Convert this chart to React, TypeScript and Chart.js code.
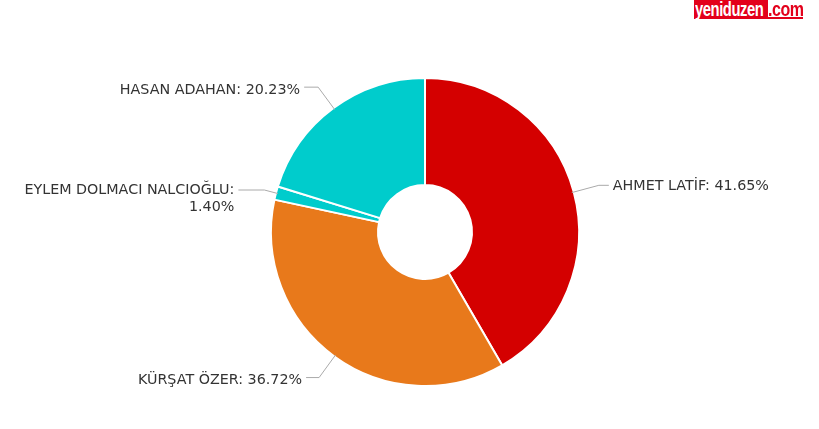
import React, { useEffect, useRef } from "react";
import { Chart, registerables } from "chart.js";

Chart.register(...registerables);

const candidates = ["AHMET LATİF", "KÜRŞAT ÖZER", "EYLEM DOLMACI NALCIOĞLU", "HASAN ADAHAN"];
const percentages = [41.65, 36.72, 1.4, 20.23];
const colors = ["#d40000", "#e8791b", "#00cccc", "#00cccc"];

const FONT = "14.3px 'DejaVu Sans', Verdana, sans-serif";

const labelPlugin = {
  id: "pieLabels",
  afterDatasetsDraw(chart: any) {
    const ctx = chart.ctx as CanvasRenderingContext2D;
    const meta = chart.getDatasetMeta(0);
    const dist = [26, 26, 12, 26];
    const horiz = [10, 13, 26, 14];
    const dy = [1, 3, 0, 3];
    ctx.save();
    ctx.font = FONT;
    meta.data.forEach((arc: any, i: number) => {
      const { x, y, startAngle, endAngle, outerRadius } = arc.getProps(
        ["x", "y", "startAngle", "endAngle", "outerRadius"],
        true
      );
      const mid = (startAngle + endAngle) / 2;
      const cos = Math.cos(mid);
      const sin = Math.sin(mid);
      const r0 = outerRadius - 2;
      const p0x = x + r0 * cos;
      const p0y = y + r0 * sin;
      const r1 = outerRadius + dist[i];
      const p1x = x + r1 * cos;
      const p1y = y + r1 * sin;
      const right = cos >= 0;
      const p2x = p1x + (right ? horiz[i] : -horiz[i]);
      ctx.strokeStyle = "#aaaaaa";
      ctx.lineWidth = 1;
      ctx.beginPath();
      ctx.moveTo(p0x, p0y);
      ctx.lineTo(p1x, p1y);
      ctx.lineTo(p2x, p1y);
      ctx.stroke();
      const text = `${candidates[i]}: ${percentages[i].toFixed(2)}%`;
      let lines = [text];
      if (ctx.measureText(text).width > 230) {
        const k = text.lastIndexOf(" ");
        lines = [text.slice(0, k), text.slice(k + 1)];
      }
      ctx.fillStyle = "#333333";
      ctx.textBaseline = "middle";
      ctx.textAlign = right ? "left" : "right";
      const tx = p2x + (right ? 4 : -4);
      lines.forEach((ln, j) => {
        ctx.fillText(ln, tx, p1y + dy[i] + j * 17);
      });
    });
    ctx.restore();
  },
};

export default function App() {
  const ref = useRef<HTMLCanvasElement | null>(null);
  useEffect(() => {
    if (!ref.current) return;
    const chart = new Chart(ref.current, {
      type: "doughnut",
      data: {
        labels: candidates,
        datasets: [
          {
            data: percentages,
            backgroundColor: colors,
            borderColor: "#ffffff",
            borderWidth: 2,
            hoverOffset: 0,
          },
        ],
      },
      options: {
        responsive: false,
        animation: false,
        cutout: "30.5%",
        layout: { padding: { top: 77, bottom: 42, left: 270, right: 239 } },
        plugins: {
          legend: { display: false },
          tooltip: { enabled: false },
        },
      },
      plugins: [labelPlugin],
    });
    return () => chart.destroy();
  }, []);

  const wmFont = {
    fontFamily: "'Liberation Sans', Arial, sans-serif",
    fontWeight: "bold" as const,
    fontSize: 20,
    lineHeight: "19px",
    letterSpacing: -0.6,
    whiteSpace: "nowrap" as const,
  };

  return (
    <div style={{ position: "absolute", left: 0, top: 0, width: 819, height: 429, background: "#fff", overflow: "hidden" }}>
      <canvas ref={ref} width={819} height={429} style={{ display: "block" }} />
      <div style={{ position: "absolute", left: 694, top: 0, width: 74, height: 19, background: "#e3001b", overflow: "hidden" }}>
        <div style={{ ...wmFont, color: "#fff", transform: "scaleX(0.74)", transformOrigin: "left top", marginLeft: 1 }}>
          yeniduzen
        </div>
      </div>
      <div style={{ position: "absolute", left: 768, top: 17, width: 35, height: 2, background: "#e3001b" }} />
      <div style={{ position: "absolute", left: 768, top: 0, height: 18, overflow: "visible" }}>
        <div style={{ ...wmFont, color: "#e3001b", transform: "scaleX(0.8)", transformOrigin: "left top" }}>
          .com
        </div>
      </div>
    </div>
  );
}
